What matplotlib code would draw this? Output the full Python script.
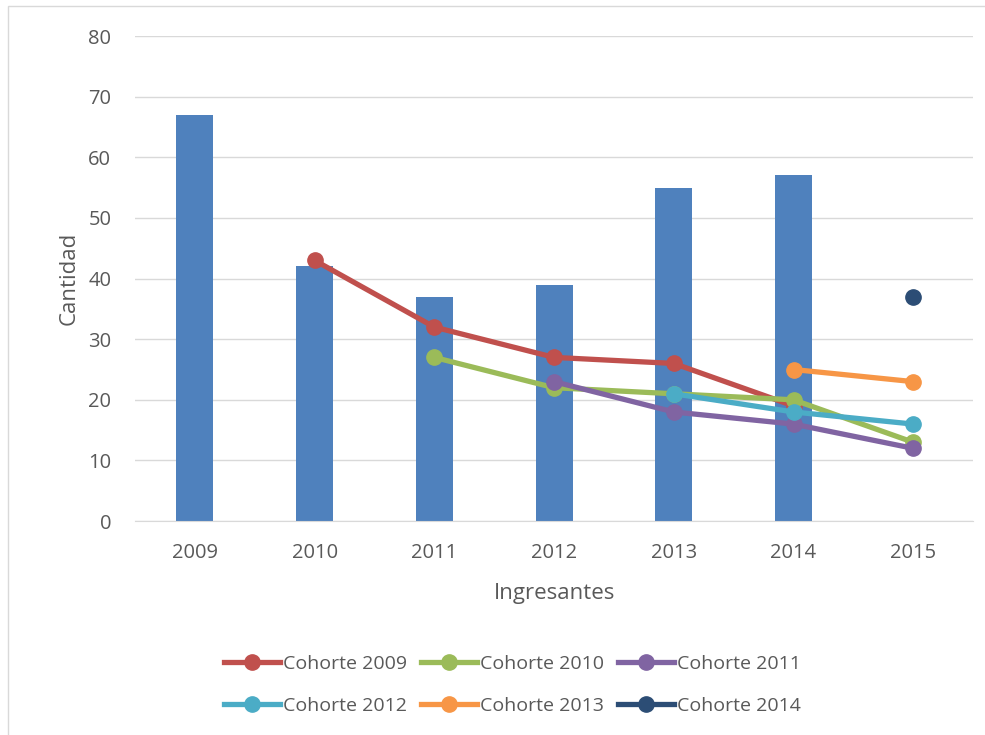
import matplotlib.pyplot as plt
import numpy as np

years = ['2009', '2010', '2011', '2012', '2013', '2014', '2015']
ingresantes = [67, 42, 37, 39, 55, 57, None]

# cohortes: valores por año (None = sin dato)
cohorte_2009 = [None, 43, 32, 27, 26, 19, None]
cohorte_2010 = [None, None, 27, 22, 21, 20, 13]
cohorte_2011 = [None, None, None, 23, 18, 16, 12]
cohorte_2012 = [None, None, None, None, 21, 18, 16]
cohorte_2013 = [None, None, None, None, None, 25, 23]
cohorte_2014 = [None, None, None, None, None, None, 37]

series = [
    ('Cohorte 2009', cohorte_2009, '#C0504D'),
    ('Cohorte 2010', cohorte_2010, '#9BBB59'),
    ('Cohorte 2011', cohorte_2011, '#8064A2'),
    ('Cohorte 2012', cohorte_2012, '#4BACC6'),
    ('Cohorte 2013', cohorte_2013, '#F79646'),
    ('Cohorte 2014', cohorte_2014, '#2C4D75'),
]

plt.rcParams['font.family'] = ['Open Sans', 'DejaVu Sans']
txt = '#595959'

fig = plt.figure(figsize=(9.85, 7.35), dpi=100)
ax = fig.add_axes([0.137, 0.291, 0.851, 0.66])

x = np.arange(len(years))
bar_vals = [np.nan if v is None else v for v in ingresantes]
ax.bar(x, bar_vals, width=0.31, color='#4F81BD', zorder=2)

handles = []
for name, vals, col in series:
    y = np.array([np.nan if v is None else v for v in vals], dtype=float)
    h, = ax.plot(x, y, color=col, lw=3.8, marker='o', ms=11, label=name, zorder=3)
    handles.append(h)

ax.set_xlim(-0.5, len(years) - 0.5)
ax.set_ylim(0, 80)
ax.set_yticks(range(0, 81, 10))
ax.set_xticks(x)
ax.set_xticklabels(years)
ax.grid(axis='y', color='#D9D9D9', lw=1, zorder=0)
for s in ['top', 'right', 'left']:
    ax.spines[s].set_visible(False)
ax.spines['bottom'].set_color('#D9D9D9')
ax.tick_params(length=0, labelsize=14.5, colors=txt, pad=16)
ax.tick_params(axis='y', pad=17)

ax.set_xlabel('Ingresantes', fontsize=16, color=txt, labelpad=14)
ax.set_ylabel('Cantidad', fontsize=16, color=txt, labelpad=6)

# orden por filas en la leyenda
order = [0, 3, 1, 4, 2, 5]
fig.legend([handles[i] for i in order], [series[i][0] for i in order],
           loc='center', bbox_to_anchor=(0.52, 0.068), ncol=3, frameon=False,
           fontsize=14, labelcolor=txt, handlelength=2.9, handletextpad=0.15,
           columnspacing=0.7, labelspacing=1.25)

# borde del gráfico
fig.patches.append(plt.Rectangle((0.008, -0.01), 1.1, 1.002, transform=fig.transFigure,
                                 fill=False, edgecolor='#D9D9D9', lw=1))

fig.savefig('out.png', dpi=100)
